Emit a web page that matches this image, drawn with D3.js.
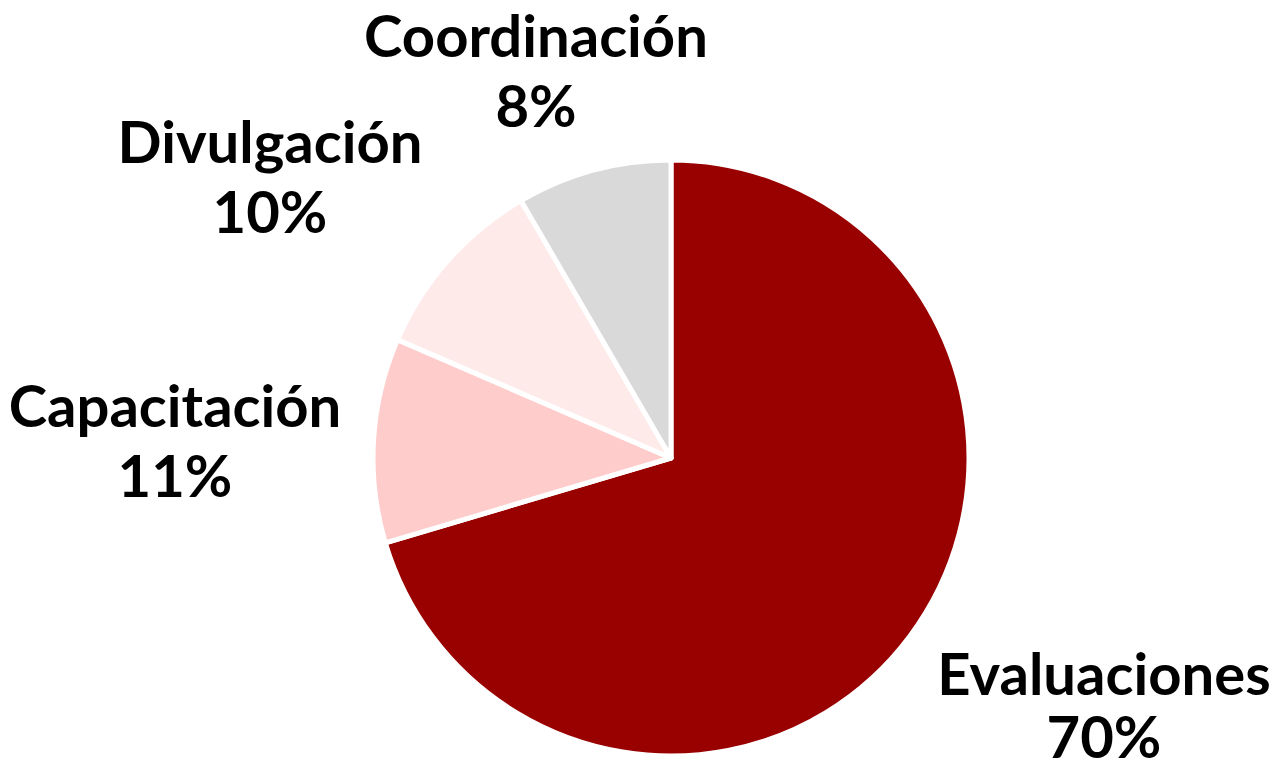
<!DOCTYPE html>
<html>
<head>
<meta charset="utf-8">
<script src="https://cdn.jsdelivr.net/npm/d3@7"></script>
<style>
  html, body { margin: 0; padding: 0; background: #fff; }
  svg { display: block; }
</style>
</head>
<body>
<svg id="chart" width="1274" height="767"></svg>
<script>
// ---- data ----
const categories = ["Evaluaciones", "Capacitación", "Divulgación", "Coordinación"];
const values = [70.4, 11.1, 10.1, 8.4];
const percentLabels = ["70%", "11%", "10%", "8%"];

// ---- layout / style ----
const W = 1274, H = 767;
const cx = 671, cy = 458, R = 298;
const colors = ["#990000", "#FFCCCC", "#FFEAEA", "#D9D9D9"];
// label anchor (center of the two-line block, first baseline) in screen coordinates
const labelAnchors = [[1104, 695], [175, 427], [270, 163], [536, 57]];
const lineGaps = [63, 70, 70, 70];
const fontSize = 58;

const svg = d3.select("#chart");
const g = svg.append("g").attr("transform", `translate(${cx},${cy})`);

const pie = d3.pie().sort(null).value(d => d.v);
const data = categories.map((c, i) => ({ name: c, v: values[i], pct: percentLabels[i], color: colors[i] }));
const arcs = pie(data);
const arc = d3.arc().innerRadius(0).outerRadius(R);

g.selectAll("path.slice")
  .data(arcs)
  .join("path")
  .attr("class", "slice")
  .attr("d", arc)
  .attr("fill", d => d.data.color)
  .attr("stroke", "#fff")
  .attr("stroke-width", 5)
  .attr("stroke-linejoin", "round");

const labels = svg.selectAll("text.lbl")
  .data(arcs)
  .join("text")
  .attr("class", "lbl")
  .attr("text-anchor", "middle")
  .attr("font-family", "Lato, 'Open Sans', sans-serif")
  .attr("font-weight", "bold")
  .attr("font-size", fontSize)
  .attr("fill", "#000");

labels.append("tspan")
  .attr("x", (d, i) => labelAnchors[i][0])
  .attr("y", (d, i) => labelAnchors[i][1])
  .text(d => d.data.name);
labels.append("tspan")
  .attr("x", (d, i) => labelAnchors[i][0])
  .attr("y", (d, i) => labelAnchors[i][1] + lineGaps[i])
  .text(d => d.data.pct);
</script>
</body>
</html>
